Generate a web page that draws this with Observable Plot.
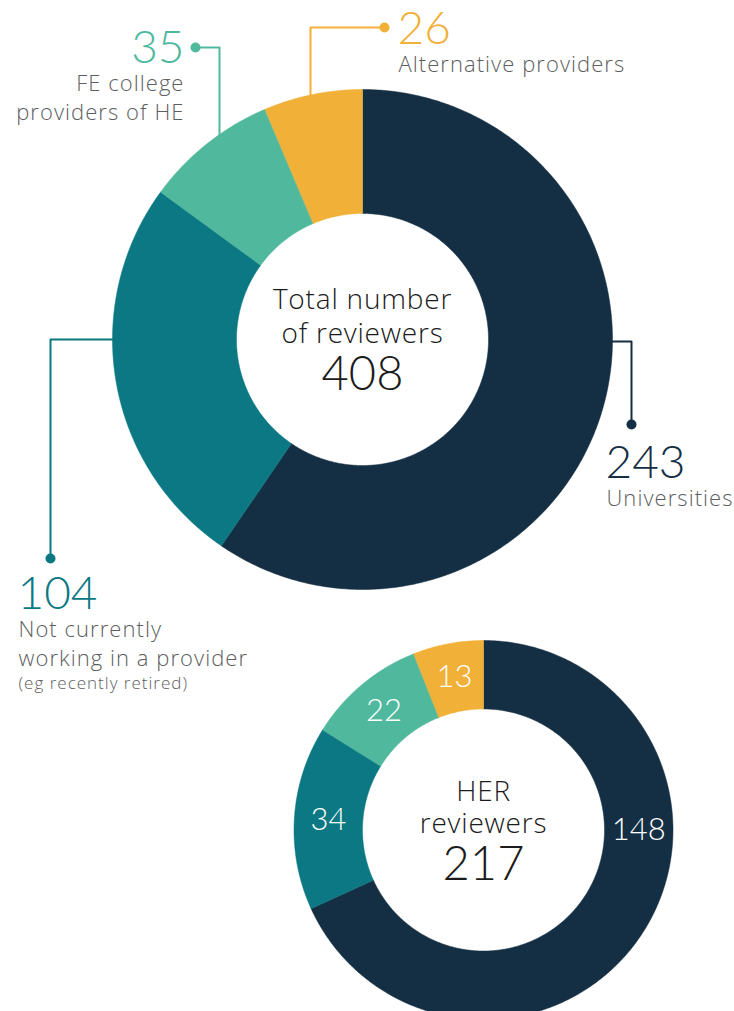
<!DOCTYPE html>
<html><head><meta charset="utf-8">
<script src="https://cdn.jsdelivr.net/npm/d3@7"></script>
<script src="https://cdn.jsdelivr.net/npm/@observablehq/plot@0.6"></script>
<style>
html,body{margin:0;background:#fff}svg{display:block}
g[font-size="22"]{letter-spacing:1.05px}
g[font-size="17"]{letter-spacing:1px}
g[font-size="28"]{letter-spacing:0.8px}
</style>
</head><body><div id="chart"></div>
<script>
// ---- data ----
const categories = ["Universities", "Not currently working in a provider", "FE college providers of HE", "Alternative providers"];
const totalValues = [243, 104, 35, 26];
const herValues = [148, 34, 22, 13];
const colors = ["#142f43", "#0b7883", "#50b99d", "#f1b037"];
const totalTitle = ["Total number", "of reviewers"];
const herTitle = ["HER", "reviewers"];
const calloutText = [
  ["Universities"],
  ["Not currently", "working in a provider"],
  ["FE college", "providers of HE"],
  ["Alternative providers"]
];
const calloutNote = "(eg recently retired)";

// ---- layout ----
const W = 734, H = 1011;
const big = {cx: 362, cy: 339, R: 250, r: 126};
const small = {cx: 483, cy: 829.5, R: 189.5, r: 121};
const NUMFONT = "Lato, 'Open Sans', sans-serif";
const TXTFONT = "'Open Sans', Lato, sans-serif";
const textGray = "#5d5e60";

function slicesOf(values) {
  const total = d3.sum(values);
  let acc = 0;
  return values.map((v, i) => {
    const a0 = acc / total * 2 * Math.PI;
    acc += v;
    const a1 = acc / total * 2 * Math.PI;
    return {cat: categories[i], value: v, a0, a1, total};
  });
}
function pt(g, a, rho) { return [g.cx + rho * Math.sin(a), g.cy - rho * Math.cos(a)]; }
function ring(values, g, tag) {
  const pts = [];
  for (const s of slicesOf(values)) {
    const n = Math.max(8, Math.ceil((s.a1 - s.a0) / 0.01));
    for (let k = 0; k <= n; k++) {
      const a = s.a0 + (s.a1 - s.a0) * k / n;
      const [x, y] = pt(g, a, g.R);
      pts.push({cat: s.cat, key: tag + s.cat, x, y});
    }
    for (let k = n; k >= 0; k--) {
      const a = s.a0 + (s.a1 - s.a0) * k / n;
      const [x, y] = pt(g, a, g.r);
      pts.push({cat: s.cat, key: tag + s.cat, x, y});
    }
  }
  return pts;
}
const ringPts = [...ring(totalValues, big, "t"), ...ring(herValues, small, "h")];

// leader lines (annotation layout)
function arcYAt(g, x) { return g.cy - Math.sqrt(g.R * g.R - (x - g.cx) ** 2); }
const leaders = [
  {cat: categories[0], pts: [[big.cx + big.R, big.cy + 2], [631, big.cy + 2], [631, 424]]},
  {cat: categories[1], pts: [[big.cx - big.R, big.cy], [50, big.cy], [50, 558]]},
  {cat: categories[2], pts: [[219, arcYAt(big, 219)], [219, 47], [195, 47]]},
  {cat: categories[3], pts: [[310, arcYAt(big, 310)], [310, 27], [384, 27]]}
];
const leaderPts = leaders.flatMap(l => l.pts.map(([x, y]) => ({cat: l.cat, x, y})));
const leaderDots = leaders.map(l => ({cat: l.cat, x: l.pts[2][0], y: l.pts[2][1]}));

// callout numbers and labels
const callouts = [
  {i: 0, x: 605, y: 477, anchor: "start"},
  {i: 1, x: 17, y: 608, anchor: "start"},
  {i: 2, x: 184, y: 62, anchor: "end"},
  {i: 3, x: 397, y: 43, anchor: "start"}
];
const calloutNums = callouts.map(c => ({cat: categories[c.i], label: String(totalValues[c.i]), x: c.x, y: c.y, anchor: c.anchor}));
const calloutLabels = callouts.flatMap(c => calloutText[c.i].map((t, j) => ({label: t, x: c.x + (c.anchor === "start" ? 1 : 0), y: c.y + 28 + j * 29.5, anchor: c.anchor})));
const noteRow = [{label: calloutNote, x: 18, y: 688}];

// HER slice labels
const herLabels = slicesOf(herValues).map((s, i) => {
  const a = i === 0 ? Math.PI / 2 : (s.a0 + s.a1) / 2;
  const [x, y] = pt(small, a, (small.R + small.r) / 2);
  return {label: String(s.value), x, y};
});

const centerText = [
  {label: totalTitle[0], x: big.cx, y: 308},
  {label: totalTitle[1], x: big.cx, y: 342},
  {label: herTitle[0], x: small.cx, y: 800},
  {label: herTitle[1], x: small.cx, y: 832}
];
const centerNums = [
  {label: String(d3.sum(totalValues)), x: big.cx, y: 389},
  {label: String(d3.sum(herValues)), x: small.cx, y: 879}
];

const chart = Plot.plot({
  width: W, height: H, margin: 0,
  style: {fontFamily: NUMFONT, background: "#fff", overflow: "hidden"},
  x: {domain: [0, W], range: [0, W], axis: null},
  y: {domain: [0, H], range: [0, H], axis: null},
  color: {domain: categories, range: colors},
  marks: [
    Plot.line(ringPts, {x: "x", y: "y", z: "key", fill: "cat", stroke: "cat", strokeWidth: 0.5, curve: "linear-closed"}),
    Plot.line(leaderPts, {x: "x", y: "y", z: "cat", stroke: "cat", strokeWidth: 2}),
    Plot.dot(leaderDots, {x: "x", y: "y", fill: "cat", r: 5}),
    Plot.text(calloutNums.filter(d => d.anchor === "start"), {x: "x", y: "y", text: "label", fill: "cat", fontSize: 46, fontWeight: 300, textAnchor: "start", lineAnchor: "bottom"}),
    Plot.text(calloutNums.filter(d => d.anchor === "end"), {x: "x", y: "y", text: "label", fill: "cat", fontSize: 46, fontWeight: 300, textAnchor: "end", lineAnchor: "bottom"}),
    Plot.text(calloutLabels.filter(d => d.anchor === "start"), {x: "x", y: "y", text: "label", fill: textGray, fontFamily: TXTFONT, fontSize: 22, fontWeight: 300, textAnchor: "start", lineAnchor: "bottom"}),
    Plot.text(calloutLabels.filter(d => d.anchor === "end"), {x: "x", y: "y", text: "label", fill: textGray, fontFamily: TXTFONT, fontSize: 22, fontWeight: 300, textAnchor: "end", lineAnchor: "bottom"}),
    Plot.text(noteRow, {x: "x", y: "y", text: "label", fill: textGray, fontFamily: TXTFONT, fontSize: 17, fontWeight: 300, textAnchor: "start", lineAnchor: "bottom"}),
    Plot.text(centerText, {x: "x", y: "y", text: "label", fill: "#1b1b1b", fontFamily: TXTFONT, fontSize: 28, fontWeight: 300, textAnchor: "middle", lineAnchor: "bottom"}),
    Plot.text(centerNums, {x: "x", y: "y", text: "label", fill: "#1b1b1b", fontSize: 47, fontWeight: 300, textAnchor: "middle", lineAnchor: "bottom"}),
    Plot.text(herLabels, {x: "x", y: "y", text: "label", fill: "#ffffff", fontSize: 31, fontWeight: 300, textAnchor: "middle", lineAnchor: "middle"})
  ]
});
document.getElementById("chart").appendChild(chart);
</script>
</body></html>
